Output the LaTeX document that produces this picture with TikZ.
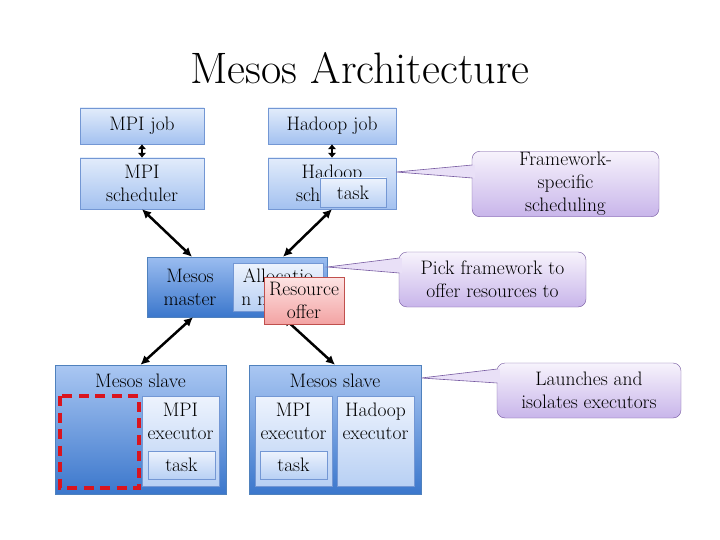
\documentclass[tikz,border=0pt]{standalone}
\usepackage{tikz}
\usetikzlibrary{arrows.meta}

\definecolor{boxline}{HTML}{7397D4}
\definecolor{boxtop}{HTML}{E2ECFB}
\definecolor{boxbot}{HTML}{A3C1F0}
\definecolor{darktop}{HTML}{9BBDF0}
\definecolor{darkbot}{HTML}{3B77CC}
\definecolor{darkline}{HTML}{4F81BD}
\definecolor{innertop}{HTML}{EDF3FD}
\definecolor{innerbot}{HTML}{B8D0F4}
\definecolor{offertop}{HTML}{FDE4E4}
\definecolor{offerbot}{HTML}{F3A3A3}
\definecolor{offerline}{HTML}{C0504D}
\definecolor{calltop}{HTML}{F7F3FC}
\definecolor{callbot}{HTML}{C8B5EA}
\definecolor{callline}{HTML}{7558A0}
\definecolor{dashred}{HTML}{D9141E}

\tikzset{
  every node/.style={font=\fontsize{19.5}{23}\selectfont},
  jobbox/.style={draw=boxline, top color=boxtop, bottom color=boxbot, minimum width=124pt, minimum height=36pt, align=center, inner sep=1pt},
  masterbox/.style={draw=darkline, top color=darktop, bottom color=darkbot, minimum width=180pt, minimum height=60pt},
  slavebox/.style={draw=darkline, top color=darktop!85!white, bottom color=darkbot, minimum width=171pt, minimum height=129pt},
  innerbox/.style={draw=boxline, top color=innertop, bottom color=innerbot, align=center, inner sep=1pt},
  offerbox/.style={draw=offerline, top color=offertop, bottom color=offerbot, minimum width=80pt, minimum height=47pt, align=center, inner sep=1pt},
  callbox/.style={draw=callline, top color=calltop, bottom color=callbot, rounded corners=8pt, minimum width=187pt, minimum height=55pt, align=center, inner sep=1pt},
  link/.style={{Latex[length=9pt,width=9pt]}-{Latex[length=9pt,width=9pt]}, line width=2.5pt},
  shortlink/.style={{Latex[length=5pt,width=9pt]}-{Latex[length=5pt,width=9pt]}, line width=2.5pt},
  pointer/.style={draw=callline, line width=0.6pt},
}

\begin{document}
\begin{tikzpicture}[x=1pt,y=-1pt]
  \path[use as bounding box, fill=white] (0,0) rectangle (720,540);

  \node (title) at (360,68) {\fontsize{44}{50}\selectfont Mesos Architecture};

  % frameworks
  \node[jobbox]                    (mpijob)   at (142,126)   {MPI job};
  \node[jobbox, minimum width=128pt] (hjob)   at (332,126)   {Hadoop job};
  \node[jobbox, minimum height=51pt] (mpisched) at (142,183.5) {MPI\\scheduler};
  \node[jobbox, minimum width=128pt, minimum height=51pt] (hsched) at (332,183.5) {Hadoop\\scheduler};
  \node[innerbox, minimum width=66pt, minimum height=29pt] (htask) at (353,192.5) {task};

  \draw[shortlink] (mpijob) -- (mpisched);
  \draw[shortlink] (hjob)   -- (hsched);

  % master
  \node[masterbox] (master) at (237,287) {};
  \node (mastertxt) at (190,287) [align=center] {Mesos\\master};
  \node[innerbox, minimum width=90pt, minimum height=48pt] (alloc) at (278,287) {Allocatio\\n module};

  \draw[link] (mpisched.south) -- ([xshift=-45pt]master.north);
  \draw[link] (hsched.south)   -- ([xshift=46pt]master.north);

  % slaves
  \node[slavebox] (slave1) at (140.5,429.5) {};
  \node[slavebox, minimum width=172pt] (slave2) at (335,429.5) {};
  \node (s1txt) at (140.5,381) {Mesos slave};
  \node (s2txt) at (335,381)   {Mesos slave};

  \node[innerbox, minimum width=77pt, minimum height=90pt] (mpiexec1) at (180.5,441) {};
  \node (e1txt) at (180.5,421) [align=center] {MPI\\executor};
  \node[innerbox, minimum width=67pt, minimum height=28pt] (task1) at (181.5,465) {task};
  \draw[dashred, dash pattern=on 10pt off 6.5pt, line width=3.5pt] (60,396) rectangle (139,488);

  \node[innerbox, minimum width=77pt, minimum height=90pt] (mpiexec2) at (293.5,441) {};
  \node[innerbox, minimum width=77pt, minimum height=90pt] (hexec)    at (375.5,441) {};
  \node (e2txt) at (293.5,421) [align=center] {MPI\\executor};
  \node (e3txt) at (375.5,421) [align=center] {Hadoop\\executor};
  \node[innerbox, minimum width=67pt, minimum height=28pt] (task2) at (293.5,465) {task};

  \draw[link] ([xshift=-44pt]master.south) -- (slave1.north);
  \draw[link] ([xshift=46pt]master.south)  -- (slave2.north);

  % resource offer sits on top of the master
  \node[offerbox] (offer) at (304,300.5) {Resource\\offer};

  % callouts
  \node[callbox] (callsched)  at (565.5,184) {Framework-\\specific\\scheduling};
  \node[callbox] (callpick)   at (492.5,279.5) {Pick framework to\\offer resources to};
  \node[callbox, minimum width=184pt] (calllaunch) at (589,390.5) {Launches and\\isolates executors};

  \fill[calltop!70!callbot] ([yshift=11.5pt]hsched.east) -- ([xshift=3pt,yshift=19pt]callsched.west) -- ([xshift=3pt,yshift=6pt]callsched.west) -- cycle;
  \draw[pointer] ([xshift=0.5pt,yshift=19pt]callsched.west) -- ([yshift=11.5pt]hsched.east) -- ([xshift=0.5pt,yshift=6pt]callsched.west);

  \fill[calltop!70!callbot] ([yshift=20pt]master.east) -- ([xshift=3pt,yshift=21.5pt]callpick.west) -- ([xshift=3pt,yshift=6.5pt]callpick.west) -- cycle;
  \draw[pointer] ([xshift=0.5pt,yshift=21.5pt]callpick.west) -- ([yshift=20pt]master.east) -- ([xshift=0.5pt,yshift=6.5pt]callpick.west);

  \fill[calltop!70!callbot] ([yshift=51.5pt]slave2.east) -- ([xshift=3pt,yshift=21.5pt]calllaunch.west) -- ([xshift=3pt,yshift=7.5pt]calllaunch.west) -- cycle;
  \draw[pointer] ([xshift=0.5pt,yshift=21.5pt]calllaunch.west) -- ([yshift=51.5pt]slave2.east) -- ([xshift=0.5pt,yshift=7.5pt]calllaunch.west);
\end{tikzpicture}
\end{document}
